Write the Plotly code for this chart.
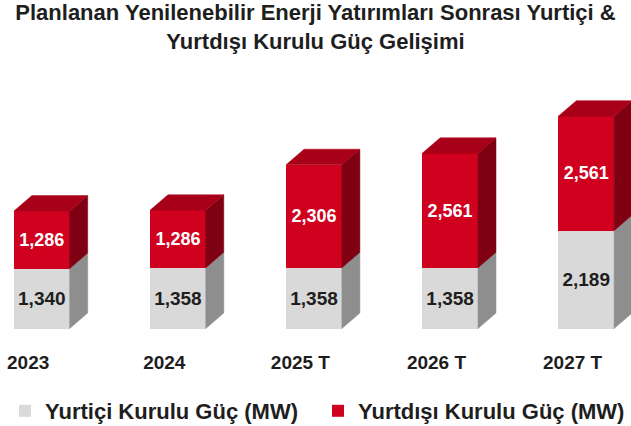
import plotly.graph_objects as go

# ---------------- data ----------------
categories = ["2023", "2024", "2025 T", "2026 T", "2027 T"]
yurtici = [1340, 1358, 1358, 1358, 2189]      # domestic installed capacity (MW)
yurtdisi = [1286, 1286, 2306, 2561, 2561]     # abroad installed capacity (MW)
series_names = ["Yurtiçi Kurulu Güç (MW)", "Yurtdışı Kurulu Güç (MW)"]
title_text = "Planlanan Yenilenebilir Enerji Yatırımları Sonrası Yurtiçi &<br>Yurtdışı Kurulu Güç Gelişimi"

# ---------------- style / layout constants ----------------
W, H = 631, 426
FONT = "Liberation Sans, Arial, sans-serif"
GRAY_FRONT, GRAY_SIDE = "#d9d9d9", "#8e8e8e"
RED_FRONT, RED_SIDE, RED_TOP = "#d0001f", "#7f0012", "#a90019"
TXT = "#1e1e1e"

PX_PER_X = 136.1          # pixel distance between bar centres
X0_PX = 41.8              # pixel centre of first bar
BAR_W = 0.41              # bar width (x units)
MT, MB = 62, 77           # top/bottom margins
ZERO_PX = 328.5           # pixel row of value 0
MW_PER_PX = 22.37         # value units per pixel
DEPTH_X_PX, DEPTH_Y_PX = 18, 15.5

pos = list(range(len(categories)))
x_range = [-X0_PX / PX_PER_X, (W - X0_PX) / PX_PER_X]
plot_bottom = H - MB
y_range = [-(plot_bottom - ZERO_PX) * MW_PER_PX, (ZERO_PX - MT) * MW_PER_PX]
DX = DEPTH_X_PX / PX_PER_X
DY = DEPTH_Y_PX * MW_PER_PX

fig = go.Figure()

# front faces (stacked bars)
fig.add_trace(go.Bar(
    x=pos, y=yurtici, name=series_names[0], width=BAR_W, legend="legend",
    marker=dict(color=GRAY_FRONT, line=dict(width=0)),
    texttemplate="%{y:,}", textposition="inside", insidetextanchor="middle",
    textangle=0, constraintext="none",
    textfont=dict(color=TXT, size=19, family=FONT, weight="bold"),
))
fig.add_trace(go.Bar(
    x=pos, y=yurtdisi, name=series_names[1], width=BAR_W, legend="legend2",
    marker=dict(color=RED_FRONT, line=dict(width=0)),
    texttemplate="%{y:,}", textposition="inside", insidetextanchor="middle",
    textangle=0, constraintext="none",
    textfont=dict(color="white", size=18, family=FONT, weight="bold"),
))

# 3D side / top faces computed from the data
def side_polys(bases, tops):
    xs, ys = [], []
    for p, b, t in zip(pos, bases, tops):
        xr = p + BAR_W / 2
        xs += [xr, xr + DX, xr + DX, xr, xr, None]
        ys += [b, b + DY, t + DY, t, b, None]
    return xs, ys

totals = [a + b for a, b in zip(yurtici, yurtdisi)]
gx, gy = side_polys([0] * len(pos), yurtici)
rx, ry = side_polys(yurtici, totals)
tx, ty = [], []
for p, t in zip(pos, totals):
    xl, xr = p - BAR_W / 2, p + BAR_W / 2
    tx += [xl, xl + DX, xr + DX, xr, xl, None]
    ty += [t, t + DY, t + DY, t, t, None]

for xs, ys, col in [(gx, gy, GRAY_SIDE), (rx, ry, RED_SIDE), (tx, ty, RED_TOP)]:
    fig.add_trace(go.Scatter(
        x=xs, y=ys, mode="lines", fill="toself", fillcolor=col,
        line=dict(color=col, width=0.5), showlegend=False, hoverinfo="skip",
    ))

legend_style = dict(
    orientation="h", xanchor="left",
    yref="container", y=(H - 390) / H, yanchor="top",
    font=dict(size=22, family=FONT, color=TXT, weight="bold"),
    itemwidth=30, bgcolor="rgba(0,0,0,0)",
)

fig.update_layout(
    width=W, height=H,
    barmode="stack",
    plot_bgcolor="white", paper_bgcolor="white",
    margin=dict(l=0, r=0, t=MT, b=MB),
    font=dict(family=FONT, color=TXT),
    title=dict(
        text=title_text, x=0.5, xanchor="center",
        yref="container", y=1 - 20 / H, yanchor="top",
        font=dict(size=22, family=FONT, color=TXT, weight="bold"),
    ),
    xaxis=dict(
        range=x_range, showgrid=False, zeroline=False, showline=False,
        tickmode="array", tickvals=[p - 0.1 for p in pos], ticktext=categories,
        ticks="", tickfont=dict(size=19, family=FONT, color=TXT, weight="bold"),
        fixedrange=True, automargin=False,
    ),
    yaxis=dict(
        range=y_range, visible=False, showgrid=False, zeroline=False,
        fixedrange=True,
    ),
    legend=dict(x=5 / W, **legend_style),
    legend2=dict(x=318 / W, **legend_style),
    showlegend=True,
)

fig.write_html(
    "out.html",
    config={"displayModeBar": False},
    post_script="document.body.style.margin='0';",
)
